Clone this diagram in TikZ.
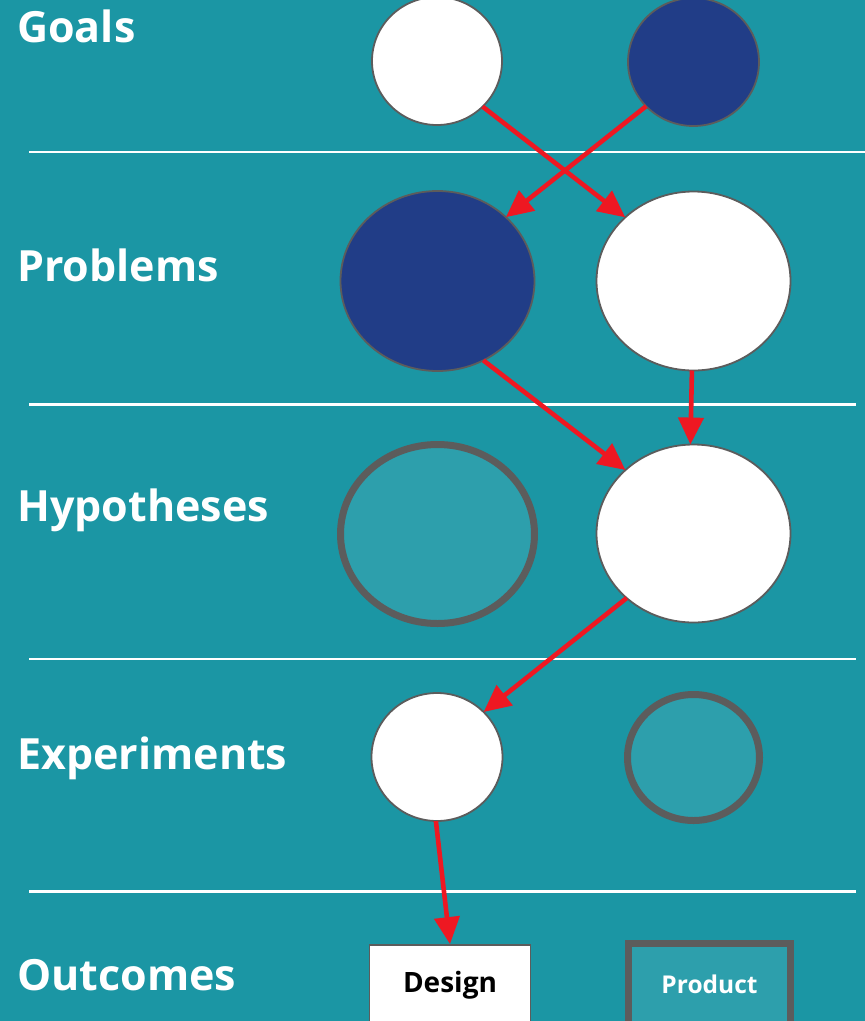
\documentclass[tikz,border=0pt]{standalone}
\usepackage{fontspec}
\setmainfont{Open Sans}
\usetikzlibrary{shapes.geometric,arrows.meta}

\definecolor{bgteal}{RGB}{27,150,164}
\definecolor{softteal}{RGB}{45,159,172}
\definecolor{navy}{RGB}{33,61,135}
\definecolor{rimgray}{RGB}{92,92,92}
\definecolor{linkred}{RGB}{238,24,34}

\tikzset{
  rowlabel/.style={anchor=base west, inner sep=0, text=white,
    font=\bfseries\fontsize{43}{50}\selectfont},
  divider/.style={draw=white, line width=2.5pt},
  blob/.style={ellipse, inner sep=0, outer sep=0, draw=rimgray, line width=1.8pt},
  whiteblob/.style={blob, fill=white},
  navyblob/.style={blob, fill=navy},
  openblob/.style={blob, fill=softteal, line width=7pt},
  link/.style={draw=linkred, line width=4.6pt,
    -{Triangle[length=27pt,width=25pt]}},
}

\begin{document}
\begin{tikzpicture}[x=1pt,y=-1pt]
  % canvas
  \fill[bgteal] (0,0) rectangle (865,1021);
  \useasboundingbox (0,0) rectangle (865,1021);

  % row separators
  \draw[divider] (29,152) -- (865,152);
  \draw[divider] (29,404.5) -- (856,404.5);
  \draw[divider] (29,659) -- (856,659);
  \draw[divider] (29,891.5) -- (856,891.5);

  % row labels
  \node[rowlabel] (lgoals) at (17,42) {Goals};
  \node[rowlabel] (lproblems) at (17,281) {Problems};
  \node[rowlabel] (lhyp) at (17,521) {Hypotheses};
  \node[rowlabel] (lexp) at (17,769) {Experiments};
  \node[rowlabel] (lout) at (17,990) {Outcomes};

  % goals
  \node[whiteblob, minimum width=130, minimum height=128] (g1) at (437,61) {};
  \node[navyblob, minimum width=131, minimum height=128] (g2) at (693.5,62) {};

  % problems
  \node[navyblob, minimum width=194, minimum height=180] (p1) at (437.5,281) {};
  \node[whiteblob, minimum width=194, minimum height=179] (p2) at (693.5,281) {};

  % hypotheses
  \node[openblob, minimum width=194, minimum height=179] (h1) at (437.5,534) {};
  \node[whiteblob, minimum width=194, minimum height=178] (h2) at (693.5,533.5) {};

  % experiments
  \node[whiteblob, minimum width=131, minimum height=128] (e1) at (437,757) {};
  \node[openblob, minimum width=132, minimum height=126] (e2) at (693.5,757.5) {};

  % outcomes
  \node[rectangle, fill=white, draw=rimgray, line width=1.8pt, inner sep=0,
        minimum width=161, minimum height=80, text=black,
        font=\bfseries\fontsize{28}{32}\selectfont] (design) at (450,985) {Design};
  \node[rectangle, fill=softteal, draw=rimgray, line width=7pt, inner sep=0,
        minimum width=162, minimum height=81, text=white,
        font=\bfseries\fontsize{24.5}{28}\selectfont] (product) at (709.5,984) {Product};

  % links
  \draw[link] (g1.-45) -- (p2.137);
  \draw[link] (g2.223) -- (p1.43);
  \draw[link] (p1.-60) -- (h2.137);
  \draw[link] (p2.-91) -- (h2.92);
  \draw[link] (h2.224) -- (e1.44);
  \draw[link] (e1.-91) -- (design.north);
\end{tikzpicture}
\end{document}
